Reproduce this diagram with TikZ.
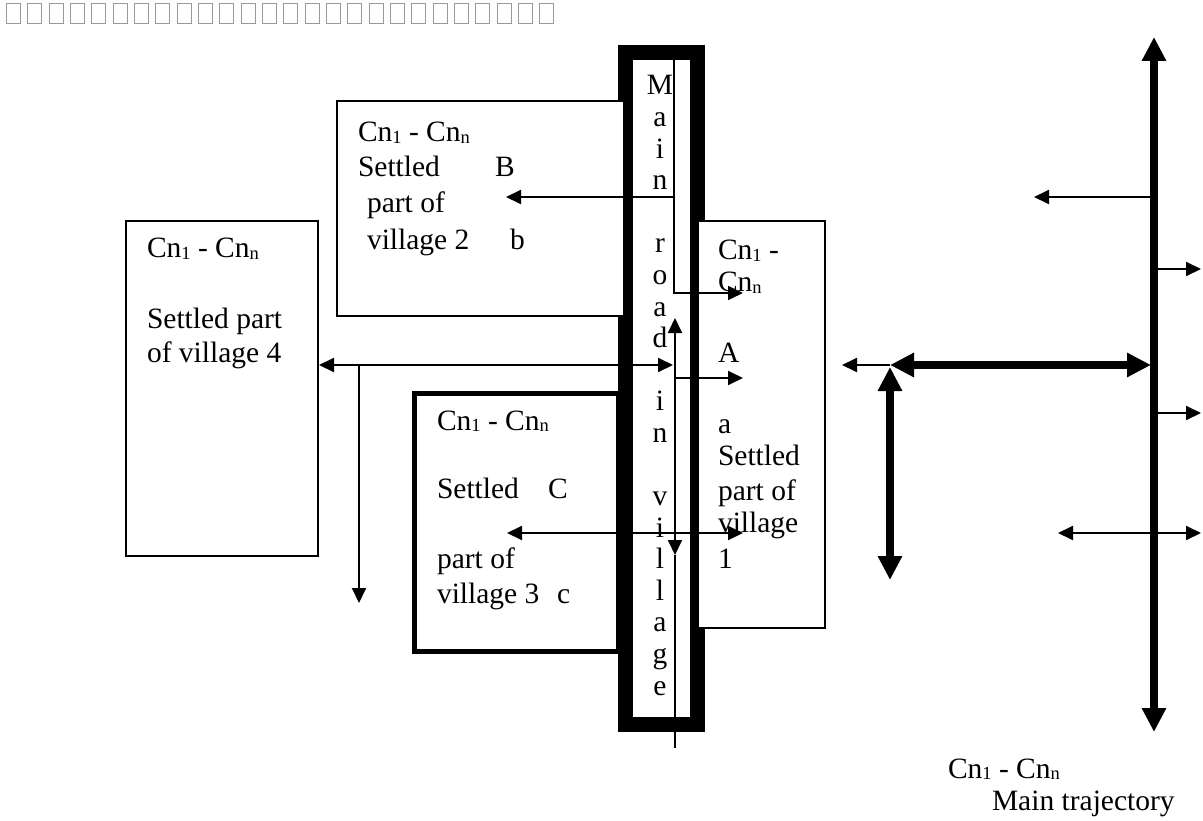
\documentclass[tikz,border=0pt]{standalone}
\usepackage{fontspec}
\setmainfont{Liberation Serif}
\usetikzlibrary{arrows.meta}
\newcommand\fs{\fontsize{29.5}{35}\selectfont}
\newcommand\mysub[1]{\raisebox{-1.5pt}{\fontsize{18.5}{18.5}\selectfont #1}}
\newcommand\cnrange{Cn\mysub{1} - Cn\mysub{n}}
\begin{document}
\begin{tikzpicture}[x=1pt,y=-1pt,
  tofu/.style={draw=black!40,line width=1pt},
  vbox/.style={draw,line width=1.3pt,fill=white,anchor=north west,inner sep=0,outer sep=0},
  txt/.style={anchor=base west,inner sep=0,outer sep=0,font=\fs},
  ltr/.style={anchor=base,inner sep=0,outer sep=0,font=\fs},
  thinarr/.style={line width=2pt,-{Triangle[length=15pt,width=14pt]}},
  thinbi/.style={line width=2pt,{Triangle[length=15pt,width=14pt]}-{Triangle[length=15pt,width=14pt]}},
  thickbi/.style={line width=7.5pt,{Triangle[length=24pt,width=23pt]}-{Triangle[length=24pt,width=23pt]}},
  roadline/.style={line width=1.5pt}
]
\useasboundingbox (0,0) rectangle (1203,821);

% row of missing-glyph boxes
\foreach \n in {0,...,25}{
  \node[tofu,anchor=north west,minimum width=14pt,minimum height=20pt,inner sep=0] (tofu\n) at ({6+21.33*\n},3) {};
}

% boxes
\node[vbox,line width=5pt,minimum width=203.5pt,minimum height=258pt] (boxC) at (414.5,393.5) {};
\node[draw,line width=15pt,fill=white,minimum width=71.5pt,minimum height=672pt,anchor=north west,inner sep=0,outer sep=0] (road) at (625.5,52.5) {};
\node[vbox,minimum width=192pt,minimum height=335pt] (box4) at (126,221) {};
\node[vbox,minimum width=287pt,minimum height=215pt] (boxB) at (337,101) {};
\node[vbox,minimum width=127pt,minimum height=407pt] (boxA) at (698,221) {};

% road letters
\foreach \c [count=\k from 0] in {M,a,i,n,{},r,o,a,d,{},i,n,{},v,i,l,l,a,g,e}{
  \node[ltr] (rl\k) at (660,{95+31.58*\k}) {\c};
}

% box B text
\node[txt] (tB1) at (358,142) {\cnrange};
\node[txt] (tB2) at (358,177) {Settled};
\node[txt] (tB2b) at (495,177) {B};
\node[txt] (tB3) at (367,213) {part of};
\node[txt] (tB4) at (367,250) {village 2};
\node[txt] (tB4b) at (510,250) {b};

% box 4 text
\node[txt] (t41) at (147,258) {\cnrange};
\node[txt] (t42) at (147,328) {Settled part};
\node[txt] (t43) at (147,362) {of village 4};

% box C text
\node[txt] (tC1) at (437,430) {\cnrange};
\node[txt] (tC2) at (437,498) {Settled};
\node[txt] (tC2b) at (548,498) {C};
\node[txt] (tC3) at (437,568) {part of};
\node[txt] (tC4) at (437,603) {village 3};
\node[txt] (tC4b) at (557,603) {c};

% box A text
\node[txt] (tA1) at (718,260) {Cn\mysub{1} -};
\node[txt] (tA2) at (718,292) {Cn\mysub{n}};
\node[txt] (tA3) at (718,362) {A};
\node[txt] (tA4) at (718,433) {a};
\node[txt] (tA5) at (718,465) {Settled};
\node[txt] (tA6) at (718,500) {part of};
\node[txt] (tA7) at (718,532) {village};
\node[txt] (tA8) at (718,568) {1};

% main trajectory text
\node[txt] (tM1) at (948,778) {\cnrange};
\node[txt] (tM2) at (992,810) {Main trajectory};

% connectors inside the road
\coordinate (rtop) at (674,60);
\coordinate (rturn) at (674,293);
\coordinate (aTip1) at (743,293);
\coordinate (rB) at (674,197);
\coordinate (bTip) at (506,197);
\draw[line width=1.7pt,-{Triangle[length=15pt,width=14pt]}] (rtop) -- (rturn) -- (aTip1);
\draw[thinarr] (rB) -- (bTip);

\coordinate (vUp) at (675,318);
\coordinate (vDn) at (675,555);
\coordinate (vEnd) at (675,748);
\coordinate (vA) at (675,378);
\coordinate (aTip2) at (743,378);
\draw[roadline] (vDn) -- (vEnd);
\draw[thinbi] (vUp) -- (vDn);
\draw[thinarr] (vA) -- (aTip2);

\coordinate (h4) at (319,365);
\coordinate (hR) at (673,365);
\coordinate (hBr) at (359,365);
\coordinate (hBrTip) at (359,603);
\draw[thinbi] (h4) -- (hR);
\draw[thinarr] (hBr) -- (hBrTip);

\coordinate (cL) at (507,533);
\coordinate (cR) at (743,533);
\draw[thinbi] (cL) -- (cR);

% main trajectory
\coordinate (mTop) at (1154,37);
\coordinate (mBot) at (1154,732);
\draw[thickbi] (mTop) -- (mBot);
\coordinate (m1) at (1154,197); \coordinate (t1) at (1034,197);
\coordinate (m2) at (1154,269); \coordinate (t2) at (1201,269);
\coordinate (m3) at (1154,413); \coordinate (t3) at (1201,413);
\coordinate (t4a) at (1058,533); \coordinate (t4b) at (1201,533);
\draw[thinarr] (m1) -- (t1);
\draw[thinarr] (m2) -- (t2);
\draw[thinarr] (m3) -- (t3);
\draw[thinbi] (t4a) -- (t4b);

\coordinate (j) at (890,365);
\coordinate (jR) at (1151,365);
\coordinate (jL) at (842,365);
\coordinate (jU) at (890,367);
\coordinate (jD) at (890,580);
\draw[thickbi] (j) -- (jR);
\draw[thinarr] (j) -- (jL);
\draw[thickbi] (jU) -- (jD);
\end{tikzpicture}
\end{document}
